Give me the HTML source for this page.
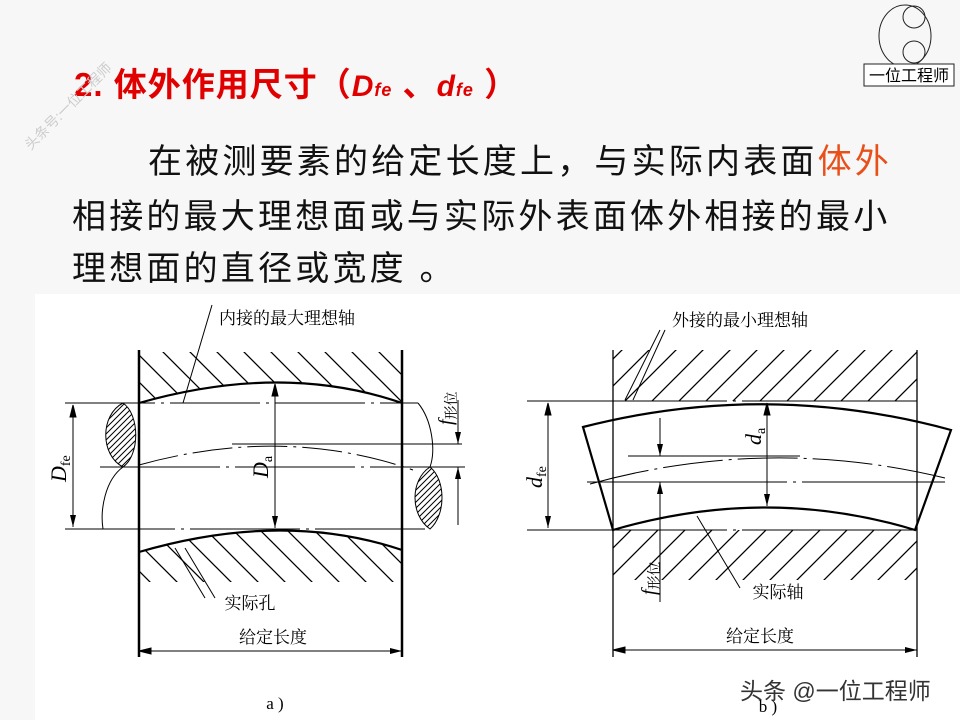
<!DOCTYPE html>
<html><head><meta charset="utf-8"><style>
html,body{margin:0;padding:0;}
body{width:960px;height:720px;background:#f7f7f7;position:relative;overflow:hidden;font-family:"Liberation Sans","Noto Sans CJK SC",sans-serif;}
.t{position:absolute;white-space:nowrap;}
</style></head><body>
<div style="position:absolute;left:35px;top:294px;width:925px;height:426px;background:#fff;"></div>
<div class="t" style="left:74px;top:58px;font-size:33px;color:#e00000;font-weight:bold;letter-spacing:1px;">2. 体外作用尺寸（<i style="font-size:30px">D<span style="font-size:18px">fe</span></i> 、<i style="font-size:30px">d<span style="font-size:18px">fe</span></i> ）</div>
<div class="t" style="left:20px;font-size:14px;color:#ccc;transform:rotate(-45deg);transform-origin:left top;top:140px;">头条号:一位工程师</div>
<div class="t" style="left:148px;top:134px;font-size:34px;letter-spacing:3.2px;color:#111;">在被测要素的给定长度上，与实际内表面<span style="color:#e8501a">体外</span></div>
<div class="t" style="left:72px;top:189px;font-size:34px;letter-spacing:3.2px;color:#111;">相接的最大理想面或与实际外表面体外相接的最小</div>
<div class="t" style="left:72px;top:241px;font-size:34px;letter-spacing:3.2px;color:#111;">理想面的直径或宽度 。</div>
<div class="t" style="left:740px;top:672px;font-size:23px;color:#333;">头条 @一位工程师</div>
<svg style="position:absolute;left:0;top:0" width="960" height="720" viewBox="0 0 960 720">
<defs>
<pattern id="ha" width="27" height="27" patternUnits="userSpaceOnUse"><path d="M0,0 L27,27 M-3,24 L3,30 M24,-3 L30,3" stroke="#000" stroke-width="1.3"/></pattern>
<pattern id="hb" width="27" height="27" patternUnits="userSpaceOnUse"><path d="M0,27 L27,0 M-3,3 L3,-3 M24,30 L30,24" stroke="#000" stroke-width="1.3"/></pattern>
<pattern id="hs" width="6" height="6" patternUnits="userSpaceOnUse"><path d="M0,6 L6,0 M-1,1 L1,-1 M5,7 L7,5" stroke="#000" stroke-width="1"/></pattern>
<marker id="ar" markerWidth="12" markerHeight="6" refX="12" refY="3" orient="auto" markerUnits="userSpaceOnUse"><path d="M0,0 L12,3 L0,6 z" fill="#000"/></marker>
</defs>
<!-- logo -->
<g fill="none" stroke="#222" stroke-width="1">
<ellipse cx="905" cy="36" rx="26" ry="31"/><circle cx="914" cy="17" r="11"/><circle cx="914" cy="52" r="11"/>
<rect x="864" y="64" width="90" height="22" fill="#fff"/></g>
<text x="909" y="81" font-size="16" text-anchor="middle" font-family="Noto Sans CJK SC">一位工程师</text>
<g stroke="#000" fill="none" font-family="Liberation Serif,Noto Serif CJK SC,serif">
<!-- diagram a -->
<path d="M139,352 L402,352 L402,403 Q283,362 139,403 Z" fill="url(#ha)" stroke="none"/>
<path d="M139,552 Q283,510 402,550 L402,582 L139,582 Z" fill="url(#ha)" stroke="none"/>
<path d="M139,403 Q283,362 402,403" stroke-width="2.2"/>
<path d="M139,552 Q283,510 402,550" stroke-width="2.2"/>
<line x1="139" y1="350" x2="139" y2="657" stroke-width="2.5"/>
<line x1="402" y1="350" x2="402" y2="657" stroke-width="2.5"/>
<line x1="65" y1="403" x2="418" y2="403" stroke-dasharray="90 6 3 6"/>
<line x1="65" y1="529" x2="430" y2="529" stroke-dasharray="110 6 3 6"/>
<line x1="100" y1="467" x2="465" y2="467" stroke-dasharray="120 6 3 6"/>
<path d="M139,465 Q283,425 413,470" stroke-dasharray="40 6 3 6"/>
<line x1="232" y1="444" x2="462" y2="444"/>
<line x1="73" y1="405" x2="73" y2="527" marker-end="url(#ar)"/>
<line x1="275" y1="384" x2="275" y2="528" marker-end="url(#ar)"/>
<path d="M275,384 l-3,12 6,0z" fill="#000"/>
<path d="M73,405 l-3,12 6,0z" fill="#000"/>
<line x1="458" y1="400" x2="458" y2="444" marker-end="url(#ar)"/>
<line x1="458" y1="525" x2="458" y2="467" marker-end="url(#ar)"/>
<path d="M123,403 C100,415 100,455 123,467 C140,455 140,415 123,403 Z" fill="url(#hs)"/>
<path d="M123,467 C105,480 100,510 103,529"/>
<path d="M430,467 C410,480 410,515 430,529 C446,515 446,480 430,467 Z" fill="url(#hs)"/>
<path d="M418,403 C432,420 436,450 430,467"/>
<line x1="139" y1="651" x2="402" y2="651" marker-end="url(#ar)"/>
<path d="M139,651 l12,-3 0,6z" fill="#000"/>
<line x1="212" y1="305" x2="183" y2="403"/>
<line x1="185" y1="548" x2="215" y2="598"/>
<line x1="175" y1="548" x2="205" y2="598"/>
<!-- diagram b -->
<path d="M613,350 L917,350 L917,401 L613,401 Z" fill="url(#hb)" stroke="none"/>
<path d="M613,530 L917,530 L917,580 L613,580 Z" fill="url(#hb)" stroke="none"/>
<path d="M583,427 Q767,380 951,430 L915,530 Q767,485 613,530 Z" fill="#fff" stroke="none"/>
<line x1="613" y1="350" x2="613" y2="657" stroke-width="1.3"/>
<line x1="917" y1="350" x2="917" y2="657" stroke-width="1.3"/>
<line x1="527" y1="401" x2="917" y2="401" stroke-dasharray="200 6 3 6"/>
<line x1="527" y1="530" x2="917" y2="530" stroke-dasharray="200 6 3 6"/>
<path d="M583,427 Q767,380 951,430 L915,530 Q767,485 613,530 Z" fill="none" stroke-width="2.2"/>
<line x1="587" y1="482" x2="945" y2="482" stroke-dasharray="200 6 3 6"/>
<path d="M590,484 Q767,435 945,478" stroke-dasharray="60 6 3 6"/>
<line x1="628" y1="456" x2="800" y2="456"/>
<line x1="548" y1="403" x2="548" y2="528" marker-end="url(#ar)"/>
<path d="M548,403 l-3,12 6,0z" fill="#000"/>
<line x1="767" y1="403" x2="767" y2="506" marker-end="url(#ar)"/>
<path d="M767,403 l-3,12 6,0z" fill="#000"/>
<line x1="660" y1="418" x2="660" y2="456" marker-end="url(#ar)"/>
<line x1="660" y1="602" x2="660" y2="482" marker-end="url(#ar)"/>
<line x1="613" y1="650" x2="917" y2="650" marker-end="url(#ar)"/>
<path d="M613,650 l12,-3 0,6z" fill="#000"/>
<line x1="660" y1="330" x2="625" y2="400"/>
<line x1="665" y1="330" x2="633" y2="400"/>
<line x1="697" y1="516" x2="740" y2="588"/>
</g>
<g font-family="Liberation Serif,Noto Serif CJK SC,serif" font-size="17" fill="#000">
<text x="287" y="324" text-anchor="middle">内接的最大理想轴</text>
<text x="250" y="609" text-anchor="middle">实际孔</text>
<text x="273" y="643" text-anchor="middle">给定长度</text>
<text x="275" y="709" text-anchor="middle">a )</text>
<text x="740" y="326" text-anchor="middle">外接的最小理想轴</text>
<text x="778" y="598" text-anchor="middle">实际轴</text>
<text x="760" y="642" text-anchor="middle">给定长度</text>
<text x="768" y="712" text-anchor="middle">b )</text>
<text transform="translate(66,482) rotate(-90)" font-size="22" font-style="italic">D<tspan font-size="14" font-style="normal" dy="4">fe</tspan></text>
<text transform="translate(268,478) rotate(-90)" font-size="22" font-style="italic">D<tspan font-size="14" font-style="normal" dy="4">a</tspan></text>
<text transform="translate(452,425) rotate(-90)" font-size="20" font-style="italic">f<tspan font-size="14" font-style="normal" dy="4">形位</tspan></text>
<text transform="translate(542,488) rotate(-90)" font-size="22" font-style="italic">d<tspan font-size="14" font-style="normal" dy="4">fe</tspan></text>
<text transform="translate(761,445) rotate(-90)" font-size="22" font-style="italic">d<tspan font-size="14" font-style="normal" dy="4">a</tspan></text>
<text transform="translate(655,595) rotate(-90)" font-size="20" font-style="italic">f<tspan font-size="14" font-style="normal" dy="4">形位</tspan></text>
</g>
</svg>
</body></html>
